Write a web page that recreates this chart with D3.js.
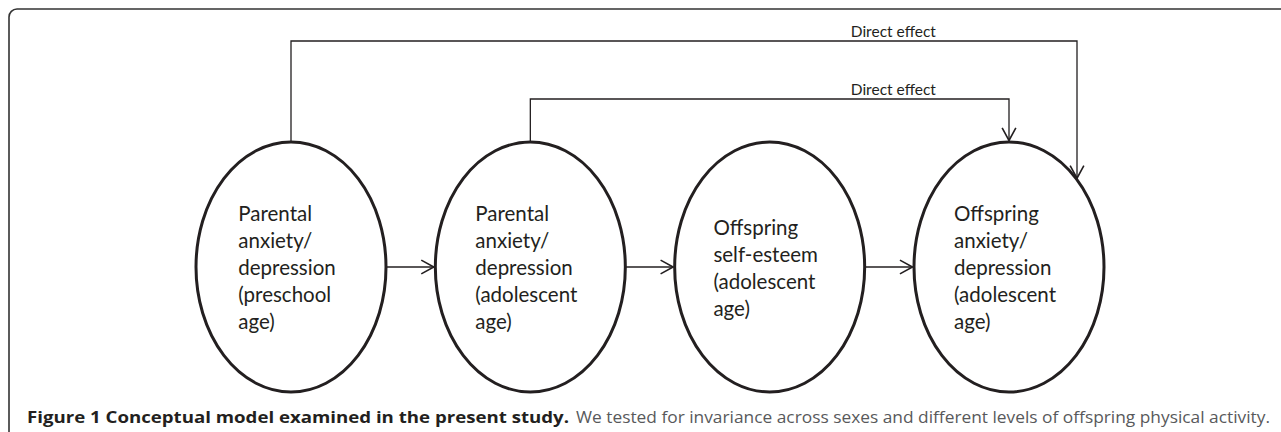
<!DOCTYPE html>
<html>
<head>
<meta charset="utf-8">
<script src="https://cdn.jsdelivr.net/npm/d3@7"></script>
<style>
  body { margin: 0; background: #fff; }
  svg { display: block; }
</style>
</head>
<body>
<svg width="1281" height="432"></svg>
<script>
// diagram content
const nodeIds = [0, 1, 2, 3];
const nodeLabels = [
    ["Parental", "anxiety/", "depression", "(preschool", "age)"],
    ["Parental", "anxiety/", "depression", "(adolescent", "age)"],
    ["Offspring", "self-esteem", "(adolescent", "age)"],
    ["Offspring", "anxiety/", "depression", "(adolescent", "age)"]
];
const chainEdges = [[0, 1], [1, 2], [2, 3]];
const directEdges = [[0, 3], [1, 3]];
const directLabels = ["Direct effect", "Direct effect"];
const captionBold = "Figure 1 Conceptual model examined in the present study.";
const captionRest = "We tested for invariance across sexes and different levels of offspring physical activity.";

const W = 1281, H = 432;
const ink = "#231f20";
const cy = 267, rx = 95, ry = 125;

const svg = d3.select("svg");

// frame (only top/left visible)
svg.append("rect")
    .attr("x", 9).attr("y", 9)
    .attr("width", W + 40).attr("height", H + 40)
    .attr("rx", 8)
    .attr("fill", "none")
    .attr("stroke", "#333")
    .attr("stroke-width", 1.6);

const defs = svg.append("defs");
defs.append("marker")
    .attr("id", "chev")
    .attr("markerUnits", "userSpaceOnUse")
    .attr("markerWidth", 16).attr("markerHeight", 16)
    .attr("viewBox", "-1 -1 14 14")
    .attr("refX", 11).attr("refY", 6)
    .attr("orient", "auto")
    .append("path")
    .attr("d", "M0,0L11,6L0,12")
    .attr("fill", "none")
    .attr("stroke", ink)
    .attr("stroke-width", 1.4);

const x = d3.scalePoint().domain(nodeIds).range([291, 1009]);
const lvl = d3.scalePoint().domain(d3.range(directEdges.length)).range([41, 99]);
const entry = d3.scalePoint().domain(d3.range(directEdges.length)).range([68, 0]);

// y on ellipse boundary (top half) at horizontal offset dx
const topAt = dx => cy - ry * Math.sqrt(Math.max(0, 1 - (dx * dx) / (rx * rx)));

// direct effect connectors
const g1 = svg.append("g");
directEdges.forEach((e, i) => {
    const x0 = x(e[0]), x1 = x(e[1]) + entry(i), yl = lvl(i);
    g1.append("path")
        .attr("d", `M${x0},${topAt(0)}V${yl}H${x1}V${topAt(entry(i)) - 1.5}`)
        .attr("fill", "none")
        .attr("stroke", ink)
        .attr("stroke-width", 1.3)
        .attr("marker-end", "url(#chev)");
    g1.append("text")
        .attr("x", (x(2) + x(3)) / 2 + 4)
        .attr("y", yl - 4)
        .attr("text-anchor", "middle")
        .attr("font-family", "Lato")
        .attr("font-size", 15.5)
        .attr("fill", ink)
        .text(directLabels[i]);
});

// chain arrows
svg.append("g").selectAll("line")
    .data(chainEdges)
    .enter()
    .append("line")
    .attr("x1", d => x(d[0]) + rx)
    .attr("x2", d => x(d[1]) - rx - 1.5)
    .attr("y1", cy).attr("y2", cy)
    .attr("stroke", ink)
    .attr("stroke-width", 1.3)
    .attr("marker-end", "url(#chev)");

// ellipses
const nodes = svg.append("g").selectAll("g")
    .data(nodeIds)
    .enter()
    .append("g");

nodes.append("ellipse")
    .attr("cx", d => x(d)).attr("cy", cy)
    .attr("rx", rx).attr("ry", ry)
    .attr("fill", "none")
    .attr("stroke", ink)
    .attr("stroke-width", 3);

const lineH = 27;
nodes.each(function(d) {
    const lines = nodeLabels[d];
    const t = d3.select(this).append("text")
        .attr("font-family", "Lato")
        .attr("font-size", 20.5)
        .attr("fill", ink);
    const spans = lines.map((s, i) => t.append("tspan")
        .attr("y", cy + (i - (lines.length - 1) / 2) * lineH + 8)
        .text(s));
    const maxW = d3.max(spans, s => s.node().getComputedTextLength());
    spans.forEach(s => s.attr("x", x(d) - 4 - maxW / 2));
});

// caption
const cap = svg.append("g").attr("font-family", "Open Sans").attr("font-size", 16.5);
cap.append("text")
    .attr("x", 27).attr("y", 423)
    .attr("font-weight", "bold")
    .attr("fill", ink)
    .attr("textLength", 542)
    .attr("lengthAdjust", "spacingAndGlyphs")
    .text(captionBold);
cap.append("text")
    .attr("x", 576).attr("y", 423)
    .attr("fill", "#58595b")
    .attr("textLength", 694)
    .attr("lengthAdjust", "spacingAndGlyphs")
    .text(captionRest);
</script>
</body>
</html>
